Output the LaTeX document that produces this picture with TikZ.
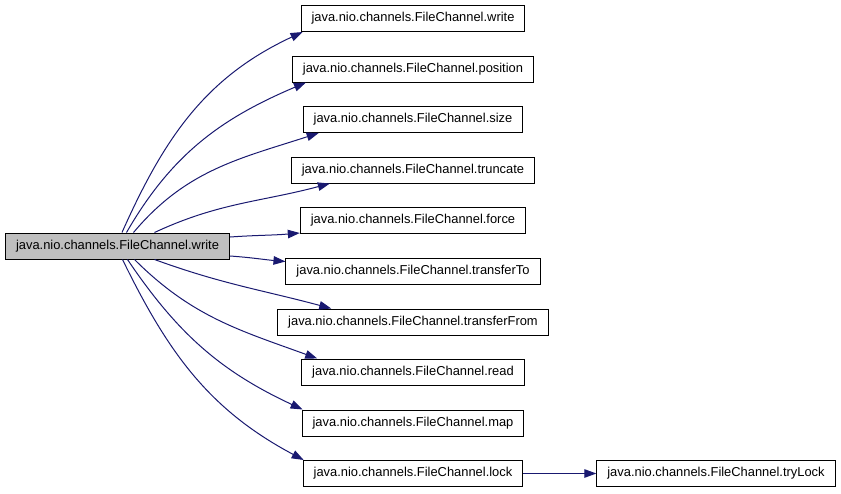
\documentclass[tikz,border=0pt]{standalone}
\usepackage{fontspec}
\setmainfont{Liberation Sans}
\usetikzlibrary{arrows.meta}
\definecolor{edgeblue}{RGB}{25,25,112}
\definecolor{callergray}{RGB}{191,191,191}

\begin{document}
\begin{tikzpicture}[x=1pt, y=-1pt,
    fnbox/.style={draw=black, line width=1pt, fill=white, inner xsep=10.5pt, inner ysep=0pt,
      minimum height=26pt, font=\fontsize{12.9pt}{14pt}\selectfont},
    callarrow/.style={draw=edgeblue, line width=1pt, -{Triangle[length=12pt,width=8.5pt]}}]
  \useasboundingbox (0,0) rectangle (841,493);

  % Caller
  \node[fnbox, fill=callergray] (fcmain) at (117.5,246) {java.nio.channels.FileChannel.write};

  % Callees
  \node[fnbox] (fcwrite) at (413,18.5) {java.nio.channels.FileChannel.write};
  \node[fnbox] (fcposition) at (413,69) {java.nio.channels.FileChannel.position};
  \node[fnbox] (fcsize) at (413,119.5) {java.nio.channels.FileChannel.size};
  \node[fnbox] (fctruncate) at (413,170) {java.nio.channels.FileChannel.truncate};
  \node[fnbox] (fcforce) at (413,220.5) {java.nio.channels.FileChannel.force};
  \node[fnbox] (fctransferto) at (413,271) {java.nio.channels.FileChannel.transferTo};
  \node[fnbox] (fctransferfrom) at (413,322) {java.nio.channels.FileChannel.transferFrom};
  \node[fnbox] (fcread) at (413,372) {java.nio.channels.FileChannel.read};
  \node[fnbox] (fcmap) at (413,423) {java.nio.channels.FileChannel.map};
  \node[fnbox] (fclock) at (413,473.5) {java.nio.channels.FileChannel.lock};
  \node[fnbox] (fctrylock) at (716,473.5) {java.nio.channels.FileChannel.tryLock};

  % Calls from the caller (upper half)
  \draw[callarrow] ([xshift=4.5pt]fcmain.north) to[out=66,in=205] ([xshift=2pt]fcwrite.south west);
  \draw[callarrow] ([xshift=9pt]fcmain.north) to[out=60,in=203] ([xshift=14pt]fcposition.south west);
  \draw[callarrow] ([xshift=16pt]fcmain.north) to[out=50,in=198] ([xshift=16pt]fcsize.south west);
  \draw[callarrow] ([xshift=37pt]fcmain.north) to[out=25,in=195] ([xshift=39pt]fctruncate.south west);
  \draw[callarrow] ([yshift=9pt]fcmain.east) to[out=4,in=185] ([yshift=1pt]fcforce.south west);

  % Calls from the caller (lower half)
  \draw[callarrow] ([yshift=-10pt]fcmain.east) to[out=-4,in=175] ([yshift=-4pt]fctransferto.north west);
  \draw[callarrow] ([xshift=37pt]fcmain.south) to[out=-20,in=165] ([xshift=54pt]fctransferfrom.north west);
  \draw[callarrow] ([xshift=17pt]fcmain.south) to[out=-45,in=160] ([xshift=16pt]fcread.north west);
  \draw[callarrow] ([xshift=10pt]fcmain.south) to[out=-56,in=155] ([xshift=1pt]fcmap.north west);
  \draw[callarrow] ([xshift=5pt]fcmain.south) to[out=-64,in=152] ([xshift=1pt]fclock.north west);

  % Nested call
  \draw[callarrow] (fclock) -- (fctrylock);
\end{tikzpicture}
\end{document}
